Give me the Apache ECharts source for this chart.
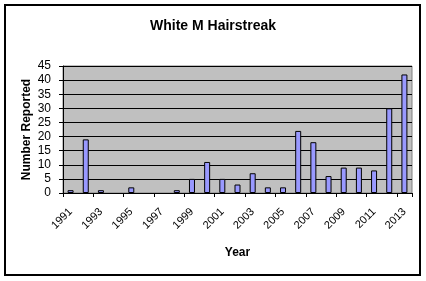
<!DOCTYPE html>
<html><head><meta charset="utf-8">
<script src="https://cdn.jsdelivr.net/npm/echarts@6/dist/echarts.min.js"></script>
<style>html,body{margin:0;padding:0;background:#fff}#c{width:426px;height:281px}</style>
</head><body><div id="c"></div>
<script>
var titleText = "White M Hairstreak";
var years = ["1991","1992","1993","1994","1995","1996","1997","1998","1999","2000","2001","2002","2003","2004","2005","2006","2007","2008","2009","2010","2011","2012","2013"];
var counts = [1,19,1,0,2,0,0,1,5,11,5,3,7,2,2,22,18,6,9,9,8,30,42];
var yTicks = {min:0, max:45, step:5};
var xName = "Year", yName = "Number Reported";

var font = "Liberation Sans, Arial, sans-serif";
var chart = echarts.init(document.getElementById('c'), null, {renderer:'canvas'});
chart.setOption({
  animation:false,
  backgroundColor:'#fff',
  title:{text:titleText,left:'center',top:14,textStyle:{fontFamily:font,fontSize:14,fontWeight:'bold',color:'#000'}},
  grid:{left:63,right:14,top:66,bottom:88,show:true,backgroundColor:'#C0C0C0',borderColor:'#808080',borderWidth:1},
  xAxis:{type:'category',data:years,
    name:xName,nameLocation:'middle',nameGap:54,nameMoveOverlap:false,
    nameTextStyle:{fontFamily:font,fontSize:12,fontWeight:'bold',color:'#000'},
    axisLine:{lineStyle:{color:'#000',width:1}},
    axisTick:{show:true,length:4,lineStyle:{color:'#000'}},
    axisLabel:{interval:1,rotate:45,margin:17,fontFamily:font,fontSize:11,color:'#000'}},
  yAxis:{type:'value',min:yTicks.min,max:yTicks.max,interval:yTicks.step,
    name:yName,nameLocation:'middle',nameGap:30,nameMoveOverlap:false,
    nameTextStyle:{fontFamily:font,fontSize:12,fontWeight:'bold',color:'#000'},
    axisLine:{show:true,lineStyle:{color:'#000',width:1}},
    axisTick:{show:true,length:4,lineStyle:{color:'#000'}},
    axisLabel:{fontFamily:font,fontSize:12,color:'#000',margin:12},
    splitLine:{show:true,lineStyle:{color:'#000',width:1}}},
  series:[{type:'bar',data:counts.map(function(v){return v===0?'-':v;}),barWidth:6,
    itemStyle:{color:'#9999FF',borderColor:'#000',borderWidth:1}}],
  graphic:[{type:'rect',shape:{x:5,y:5,width:415,height:270},style:{fill:null,stroke:'#000',lineWidth:2},silent:true}]
});
</script></body></html>
